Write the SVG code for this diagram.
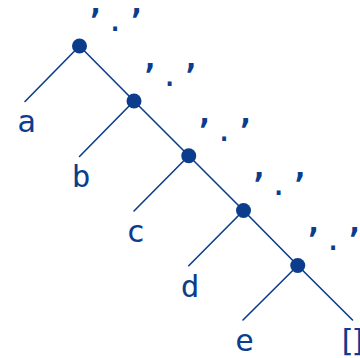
<svg xmlns="http://www.w3.org/2000/svg" width="360" height="358" viewBox="0 0 360 358">
<style>
.e{stroke:#0b3d8c;stroke-width:1.6;fill:none;stroke-linecap:round}
.n{fill:#0b3d8c}
.t{font-family:"DejaVu Sans Mono","Liberation Mono",monospace;font-size:31px;fill:#0b3d8c;text-anchor:middle}
.q{font-weight:bold}
</style>
<rect width="360" height="358" fill="#fff"/>
<g id="connectors">
<line class="e" x1="79.5" y1="46" x2="25" y2="101.5"/>
<line class="e" x1="79.5" y1="46" x2="134" y2="101"/>
<line class="e" x1="134" y1="101" x2="79.5" y2="156.5"/>
<line class="e" x1="134" y1="101" x2="188.75" y2="155.75"/>
<line class="e" x1="188.75" y1="155.75" x2="134" y2="211"/>
<line class="e" x1="188.75" y1="155.75" x2="243.5" y2="210.5"/>
<line class="e" x1="243.5" y1="210.5" x2="188.75" y2="265.75"/>
<line class="e" x1="243.5" y1="210.5" x2="297.75" y2="265.5"/>
<line class="e" x1="297.75" y1="265.5" x2="243" y2="320"/>
<line class="e" x1="297.75" y1="265.5" x2="352.5" y2="320"/>
</g>
<g id="node1"><circle class="n" cx="79.5" cy="46" r="7.5"/><text class="t" y="31"><tspan class="q" x="94.5">’</tspan><tspan x="115">.</tspan><tspan class="q" x="135.5">’</tspan></text></g>
<g id="node2"><circle class="n" cx="134" cy="101" r="7.5"/><text class="t" y="85.5"><tspan class="q" x="149">’</tspan><tspan x="169.5">.</tspan><tspan class="q" x="190">’</tspan></text></g>
<g id="node3"><circle class="n" cx="188.75" cy="155.75" r="7.5"/><text class="t" y="140.5"><tspan class="q" x="203.5">’</tspan><tspan x="224">.</tspan><tspan class="q" x="244.5">’</tspan></text></g>
<g id="node4"><circle class="n" cx="243.5" cy="210.5" r="7.5"/><text class="t" y="195"><tspan class="q" x="258">’</tspan><tspan x="278.5">.</tspan><tspan class="q" x="299">’</tspan></text></g>
<g id="node5"><circle class="n" cx="297.75" cy="265.5" r="7.5"/><text class="t" y="250"><tspan class="q" x="312.5">’</tspan><tspan x="333">.</tspan><tspan class="q" x="353.5">’</tspan></text></g>
<g id="leaf-a"><text class="t" x="26.5" y="132">a</text></g>
<g id="leaf-b"><text class="t" x="81" y="187">b</text></g>
<g id="leaf-c"><text class="t" x="135.5" y="241.5">c</text></g>
<g id="leaf-d"><text class="t" x="190" y="296.5">d</text></g>
<g id="leaf-e"><text class="t" x="244.5" y="351">e</text></g>
<g id="leaf-nil"><text class="t" x="346.6 358.5" y="351">[]</text></g>
</svg>
